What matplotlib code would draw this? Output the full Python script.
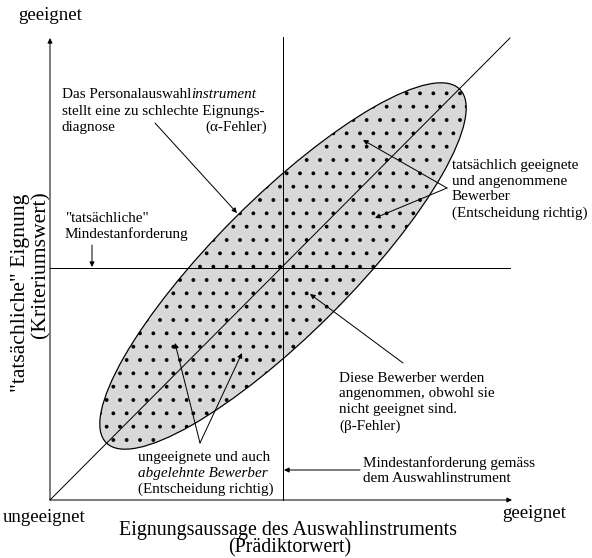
import matplotlib
matplotlib.use('Agg')
import matplotlib.pyplot as plt
from matplotlib.patches import Ellipse

plt.rcParams['font.family'] = ['Liberation Serif', 'DejaVu Serif']

# geometry of the diagram (pixel-like units, y grows downwards)
origin = (50, 500)
x_axis_end = 512
y_axis_end = 38
pred_cut = 283          # Mindestanforderung gemaess Auswahlinstrument
crit_cut = 268          # "tatsaechliche" Mindestanforderung
diag_end = (510, 38)
ell_center = (283, 266)
ell_length = 500
ell_width = 136
ell_angle = -45

# annotations: lines of text, first line position, arrow start, arrow targets
notes = [
    (["Das Personalauswahl", "stellt eine zu schlechte Eignungs-", "diagnose"],
     (62, 95), (155, 123), [(237, 213)]),
    (["\"tatsächliche\"", "Mindestanforderung"], (65, 218), (92, 245), [(92, 267)]),
    (["tatsächlich geeignete", "und angenommene", "Bewerber", "(Entscheidung richtig)"],
     (452, 165), (447, 188), [(363, 140), (375, 218)]),
    (["Diese Bewerber werden", "angenommen, obwohl sie", "nicht geeignet sind.", "(β-Fehler)"],
     (339, 378), (403, 363), [(310, 294)]),
    (["ungeeignete und auch", "abgelehnte Bewerber", "(Entscheidung richtig)"],
     (138, 457), (200, 443), [(175, 343), (242, 353)]),
    (["Mindestanforderung gemäss", "dem Auswahlinstrument"], (363, 463), (360, 470), [(284, 470)]),
]
italic_lines = ["abgelehnte Bewerber"]
line_step = 16

fig = plt.figure(figsize=(592 / 80, 558 / 80), dpi=80)
ax = fig.add_axes([0, 0, 1, 1])
ax.set_xlim(0, 592)
ax.set_ylim(558, 0)
ax.axis('off')

ell = Ellipse(ell_center, ell_length, ell_width, angle=ell_angle,
              facecolor='#d8d8d8', edgecolor='black', hatch='.', lw=1.1, zorder=1)
ax.add_patch(ell)

lw = 0.9
ax.plot([origin[0], diag_end[0]], [origin[1], diag_end[1]], color='black', lw=lw, zorder=2)
ax.plot([pred_cut, pred_cut], [origin[1], y_axis_end - 1], color='black', lw=lw, zorder=2)
ax.plot([origin[0], diag_end[0]], [crit_cut, crit_cut], color='black', lw=lw, zorder=2)

arrow = dict(arrowstyle='-|>', color='black', lw=lw, mutation_scale=9, shrinkA=0, shrinkB=0)
ax.annotate('', xy=(origin[0], y_axis_end), xytext=origin, arrowprops=arrow)
ax.annotate('', xy=(x_axis_end, origin[1]), xytext=origin, arrowprops=arrow)

fs = 13.6
texts = []
for lines, pos, start, targets in notes:
    for i, line in enumerate(lines):
        style = 'italic' if line in italic_lines else 'normal'
        t = ax.text(pos[0], pos[1] + i * line_step, line, fontsize=fs,
                    ha='left', va='center', style=style)
        texts.append(t)
    for tgt in targets:
        ax.annotate('', xy=tgt, xytext=start, arrowprops=arrow)

# italic tail of the first word and right-aligned alpha label
ax.annotate("instrument", xy=(1, 0), xycoords=texts[0], fontsize=fs,
            style='italic', ha='left', va='bottom')
ax.text(267, 95 + 2 * line_step, "(α-Fehler)", fontsize=fs, ha='right', va='center')

ax.text(18, 16, "geeignet", fontsize=17, ha='left', va='center')
ax.text(3, 518, "ungeeignet", fontsize=17, ha='left', va='center')
ax.text(502, 514, "geeignet", fontsize=17, ha='left', va='center')
ax.text(288, 530, "Eignungsaussage des Auswahlinstruments", fontsize=18,
        ha='center', va='center')
ax.text(290, 548, "(Prädiktorwert)", fontsize=18, ha='center', va='center')
ax.text(21, 293, "\"tatsächliche\" Eignung", fontsize=19.5,
        ha='center', va='center', rotation=90)
ax.text(41, 265, "(Kriteriumswert)", fontsize=19.5,
        ha='center', va='center', rotation=90)

fig.savefig('out.png', dpi=80)
